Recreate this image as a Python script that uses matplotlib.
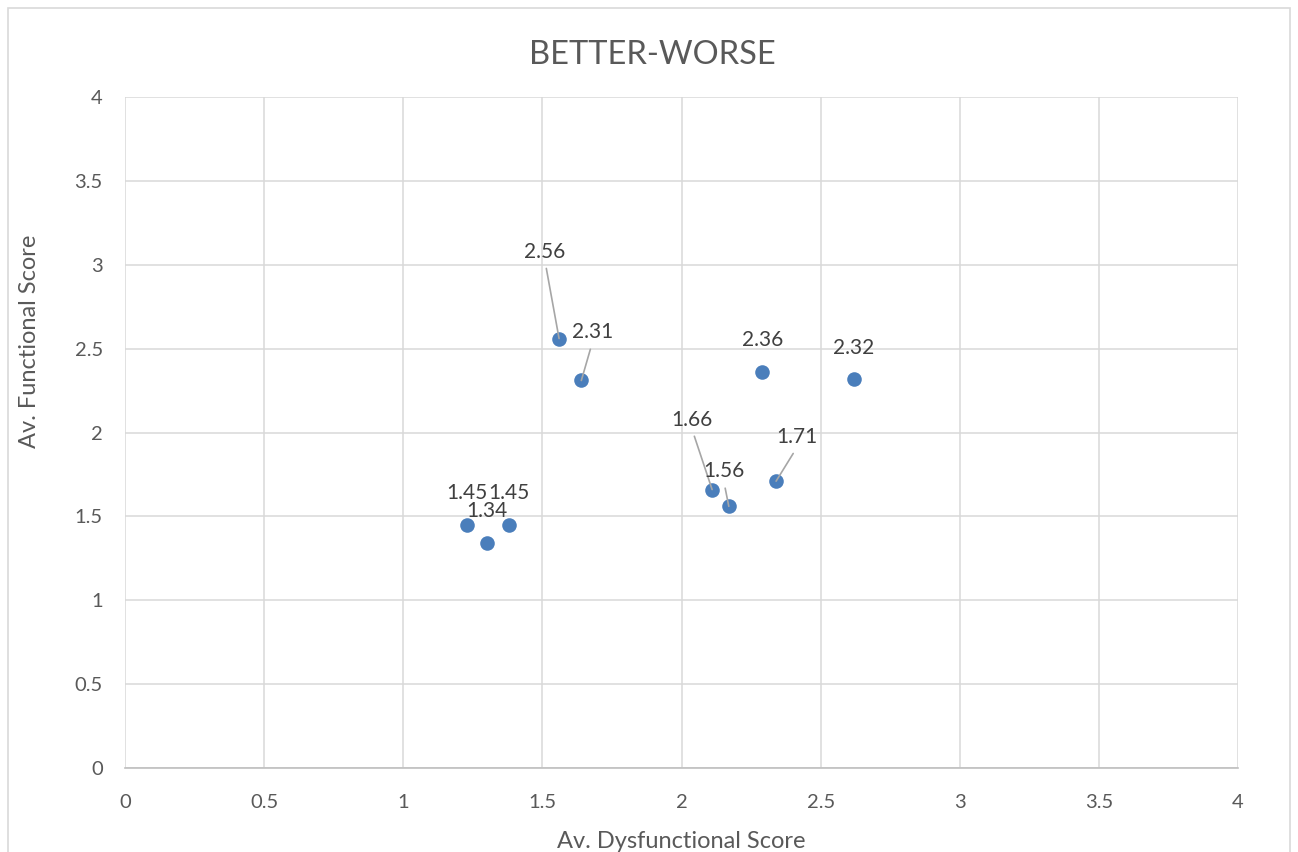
import matplotlib
matplotlib.use("Agg")
import matplotlib.pyplot as plt
from matplotlib.patches import Rectangle

plt.rcParams['font.family'] = ['Lato', 'DejaVu Sans']

# Average scores per feature
dysfunctional = [1.56, 1.64, 2.29, 2.62, 2.11, 2.17, 2.34, 1.23, 1.38, 1.30]
functional = [2.56, 2.31, 2.36, 2.32, 1.66, 1.56, 1.71, 1.45, 1.45, 1.34]
value_labels = ["2.56", "2.31", "2.36", "2.32", "1.66", "1.56", "1.71", "1.45", "1.45", "1.34"]
ticks = [0, 0.5, 1, 1.5, 2, 2.5, 3, 3.5, 4]
tick_labels = ["0", "0.5", "1", "1.5", "2", "2.5", "3", "3.5", "4"]

# label placement (pixel offsets from the marker) and whether a leader line is drawn
label_offsets = [(-14, 87), (11, 48), (0, 32), (0, 31), (-20, 70),
                 (-5, 35), (21, 44), (0, 32), (0, 32), (0, 32)]
leaders = [True, True, False, False, True, True, True, False, False, False]

W, H, DPI = 1298, 852, 100
fig = plt.figure(figsize=(W / DPI, H / DPI), dpi=DPI)
fig.patch.set_facecolor("white")
fig.patches.append(Rectangle((8 / W, -0.01), (1290 - 8) / W, 1 - 8 / H + 0.01,
                             transform=fig.transFigure, fill=False,
                             edgecolor="#d9d9d9", linewidth=1.2))

ax = fig.add_axes([125 / W, 1 - 768 / H, (1238 - 125) / W, (768 - 97) / H])
ax.set_xlim(0, 4)
ax.set_ylim(0, 4)
ax.set_xticks(ticks)
ax.set_xticklabels(tick_labels)
ax.set_yticks(ticks)
ax.set_yticklabels(tick_labels)
ax.grid(True, color="#d9d9d9", linewidth=1.1)
ax.set_axisbelow(True)
for side in ["top", "right", "left"]:
    ax.spines[side].set_visible(False)
ax.spines["bottom"].set_color("#bfbfbf")
ax.spines["bottom"].set_linewidth(1.2)
ax.tick_params(length=0, labelsize=14.5, colors="#595959", pad=19)
ax.tick_params(axis="y", pad=16)

ax.scatter(dysfunctional, functional, s=110, color="#4a7ebb", zorder=3, linewidths=0)

for x, y, txt, (dx, dy), lead in zip(dysfunctional, functional, value_labels,
                                      label_offsets, leaders):
    kw = {}
    if lead:
        kw["arrowprops"] = dict(arrowstyle="-", color="#a6a6a6", lw=1.2,
                                relpos=(0.5, 0.0), shrinkA=3, shrinkB=0)
    ax.annotate(txt, xy=(x, y), xytext=(dx, dy), textcoords="offset pixels",
                ha="center", va="center", fontsize=15, color="#404040",
                zorder=4, **kw)

fig.text(652 / W, 1 - 55 / H, "BETTER-WORSE", fontsize=23.5, color="#595959",
         ha="center", va="center")
ax.set_xlabel("Av. Dysfunctional Score", fontsize=17, color="#595959", labelpad=14)
fig.text(30 / W, 1 - 341 / H, "Av. Functional Score", fontsize=17, color="#595959",
         ha="center", va="center", rotation=90)

fig.savefig("out.png", dpi=DPI)
